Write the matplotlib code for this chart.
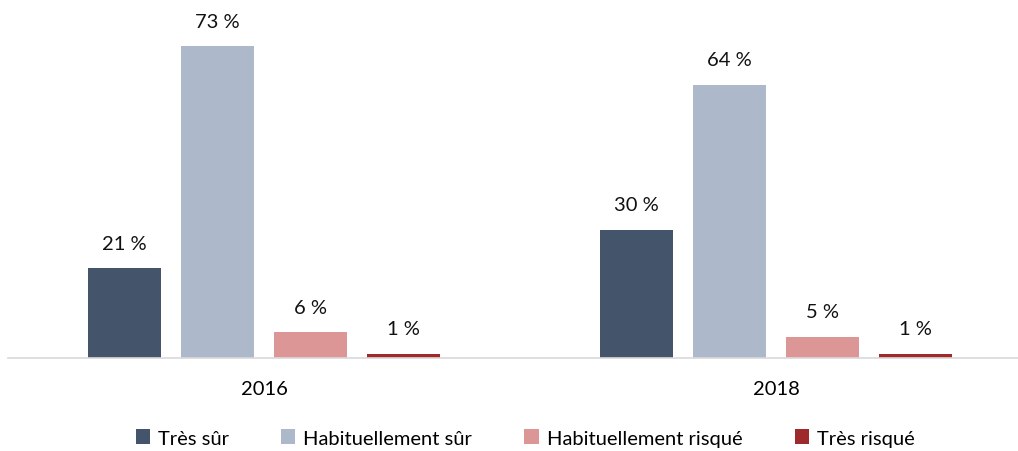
import matplotlib.pyplot as plt
import numpy as np

years = ["2016", "2018"]
series = ["Très sûr", "Habituellement sûr", "Habituellement risqué", "Très risqué"]
values = {
    "Très sûr": [21, 30],
    "Habituellement sûr": [73, 64],
    "Habituellement risqué": [6, 5],
    "Très risqué": [1, 1],
}
colors = ["#44546A", "#ADB9CA", "#DC9696", "#9E2A2B"]

plt.rcParams["font.family"] = ["Lato", "DejaVu Sans"]

W, H = 1018, 452
fig = plt.figure(figsize=(W / 100, H / 100), dpi=100)
# axes spans from x=8 px to 1032 px (clipped at the right edge), baseline at y=359 px
ax = fig.add_axes([8 / W, 1 - 359 / H, 1024 / W, 341.6 / H])

x = np.arange(len(years))
pitch = 93 / 512
width = 73 / 512
for i, name in enumerate(series):
    pos = x + (i - 1.5) * pitch
    bars = ax.bar(pos, values[name], width=width, color=colors[i], label=name)
    for b, v in zip(bars, values[name]):
        ax.text(b.get_x() + b.get_width() / 2, v + 3.9, f"{v} %", ha="center",
                va="bottom", fontsize=14.5, color="#111111", clip_on=False)

ax.set_xlim(-0.5, 1.5)
ax.set_ylim(0, 80)
ax.set_yticks([])
ax.set_xticks(x)
ax.set_xticklabels(years, fontsize=14.5)
ax.tick_params(axis="x", length=0, pad=16)
for side in ["top", "right", "left"]:
    ax.spines[side].set_visible(False)
ax.spines["bottom"].set_color("#D9D9D9")
ax.spines["bottom"].set_linewidth(1.2)

fig.legend(loc="center", bbox_to_anchor=(0.5 + 16 / W, 1 - 439 / H), ncol=4, frameon=False,
           fontsize=14.5, handlelength=0.7, handleheight=0.7, handletextpad=0.4,
           columnspacing=2.6, borderpad=0.2)

fig.savefig("out.png", dpi=100)
